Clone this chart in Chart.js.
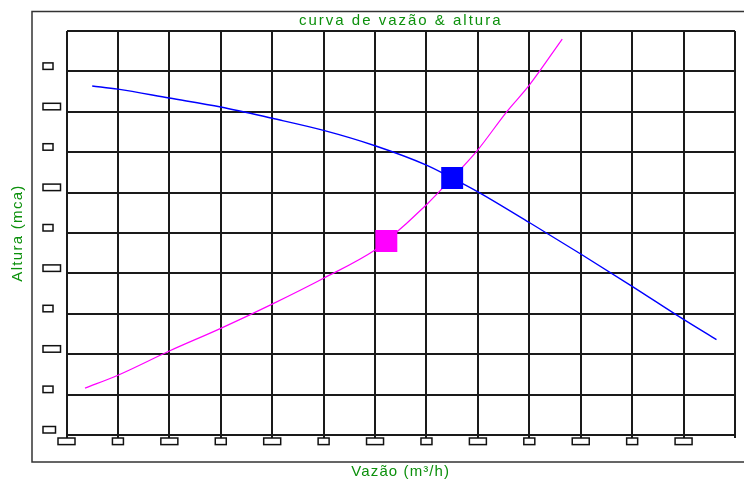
<!DOCTYPE html>
<html>
<head>
<meta charset="utf-8">
<title>curva de vazão & altura</title>
<script src="https://cdn.jsdelivr.net/npm/chart.js@4/dist/chart.umd.min.js"></script>
<style>
  html, body { margin: 0; padding: 0; background: #fff; }
  canvas { display: block; }
</style>
</head>
<body>
<canvas id="grafico" width="744" height="481"></canvas>
<script>
// dados (vazão em m³/h, altura em mca)
const vazaoBomba = [2.5, 5, 10, 15, 20, 25, 30, 35, 37.5, 40, 45, 50, 55, 60, 63.2];
const alturaBomba = [43.2, 42.8, 41.7, 40.6, 39.2, 37.7, 35.8, 33.4, 31.8, 30.1, 26.3, 22.4, 18.4, 14.3, 11.8];

const vazaoSistema = [1.8, 5, 10, 15, 20, 25, 30, 31.1, 35, 37.5, 40, 42.8, 45, 48.2];
const alturaSistema = [5.8, 7.4, 10.4, 13.2, 16.2, 19.4, 22.9, 24.0, 28.5, 31.8, 35.3, 40.0, 43.3, 49.0];

const pontoOperacao = [37.5, 31.8];
const pontoProjeto = [31.1, 24.0];

// limites dos eixos
const eixoX = [0, 65, 5];
const eixoY = [0, 50, 5];

const titulo = 'curva de vazão & altura';
const tituloX = 'Vazão (m³/h)';
const tituloY = 'Altura (mca)';

const VERDE = '#0c900c';

function pares(xs, ys) {
  return xs.map((x, i) => ({ x: x, y: ys[i] }));
}

// moldura, textos e caixinhas dos rótulos
const desenhoExtra = {
  id: 'desenhoExtra',
  beforeDraw(chart) {
    const ctx = chart.ctx;
    ctx.save();
    ctx.strokeStyle = '#333';
    ctx.lineWidth = 1.5;
    ctx.strokeRect(32, 11.5, 800, 450.5);
    ctx.restore();
  },
  afterDraw(chart) {
    const ctx = chart.ctx;
    const area = chart.chartArea;
    const sx = chart.scales.x;
    const sy = chart.scales.y;
    ctx.save();
    ctx.strokeStyle = '#111';
    ctx.fillStyle = '#fff';
    ctx.lineWidth = 1.5;

    sx.ticks.forEach((t, i) => {
      if (t.value >= sx.max) return;
      const px = sx.getPixelForValue(t.value);
      const w = i % 2 === 0 ? 17 : 11;
      ctx.fillRect(px - w / 2, area.bottom + 3, w, 6.6);
      ctx.strokeRect(px - w / 2, area.bottom + 3, w, 6.6);
    });

    sy.ticks.forEach((t, i) => {
      if (t.value >= sy.max) return;
      const py = sy.getPixelForValue(t.value);
      const w = i === 0 ? 12.5 : (i % 2 ? 10 : 17.5);
      ctx.fillRect(43, py - 8.5, w, 6.5);
      ctx.strokeRect(43, py - 8.5, w, 6.5);
    });

    ctx.fillStyle = VERDE;
    ctx.textAlign = 'center';
    ctx.textBaseline = 'middle';
    ctx.font = '15px "Liberation Sans", Arial, sans-serif';
    const meio = (area.left + area.right) / 2;

    ctx.letterSpacing = '2px';
    ctx.fillText(titulo, meio, 21);

    ctx.letterSpacing = '1.1px';
    ctx.fillText(tituloX, meio, 472);

    ctx.translate(18, (area.top + area.bottom) / 2);
    ctx.rotate(-Math.PI / 2);
    ctx.letterSpacing = '1.3px';
    ctx.fillText(tituloY, 0, 0);
    ctx.restore();
  }
};

const grade = {
  color: '#1a1a1a',
  lineWidth: 2
};

new Chart(document.getElementById('grafico'), {
  type: 'line',
  data: {
    datasets: [
      {
        label: 'ponto de operação',
        data: [{ x: pontoOperacao[0], y: pontoOperacao[1] }],
        showLine: false,
        pointStyle: 'rect',
        pointRadius: 15.5,
        pointBorderWidth: 0,
        backgroundColor: '#0000ff',
        borderColor: '#0000ff'
      },
      {
        label: 'ponto de projeto',
        data: [{ x: pontoProjeto[0], y: pontoProjeto[1] }],
        showLine: false,
        pointStyle: 'rect',
        pointRadius: 15.5,
        pointBorderWidth: 0,
        backgroundColor: '#ff00ff',
        borderColor: '#ff00ff'
      },
      {
        label: 'bomba',
        data: pares(vazaoBomba, alturaBomba),
        borderColor: '#0000ff',
        borderWidth: 1.4,
        pointRadius: 0,
        cubicInterpolationMode: 'monotone',
        fill: false
      },
      {
        label: 'sistema',
        data: pares(vazaoSistema, alturaSistema),
        borderColor: '#ff00ff',
        borderWidth: 1.2,
        pointRadius: 0,
        cubicInterpolationMode: 'monotone',
        fill: false
      }
    ]
  },
  options: {
    responsive: false,
    animation: false,
    devicePixelRatio: 1,
    layout: {
      autoPadding: false,
      padding: { left: 66.5, top: 31, right: 9, bottom: 46 }
    },
    plugins: {
      legend: { display: false },
      tooltip: { enabled: false },
      title: { display: false }
    },
    scales: {
      x: {
        type: 'linear',
        min: eixoX[0],
        max: eixoX[1],
        ticks: { stepSize: eixoX[2], display: false },
        grid: { ...grade, drawTicks: true, tickLength: 3, tickColor: '#1a1a1a' },
        border: { display: false },
        afterFit(s) { s.height = 0; }
      },
      y: {
        type: 'linear',
        min: eixoY[0],
        max: eixoY[1],
        ticks: { stepSize: eixoY[2], display: false },
        grid: { ...grade, drawTicks: false },
        border: { display: false },
        afterFit(s) { s.width = 0; }
      }
    }
  },
  plugins: [desenhoExtra]
});
</script>
</body>
</html>
